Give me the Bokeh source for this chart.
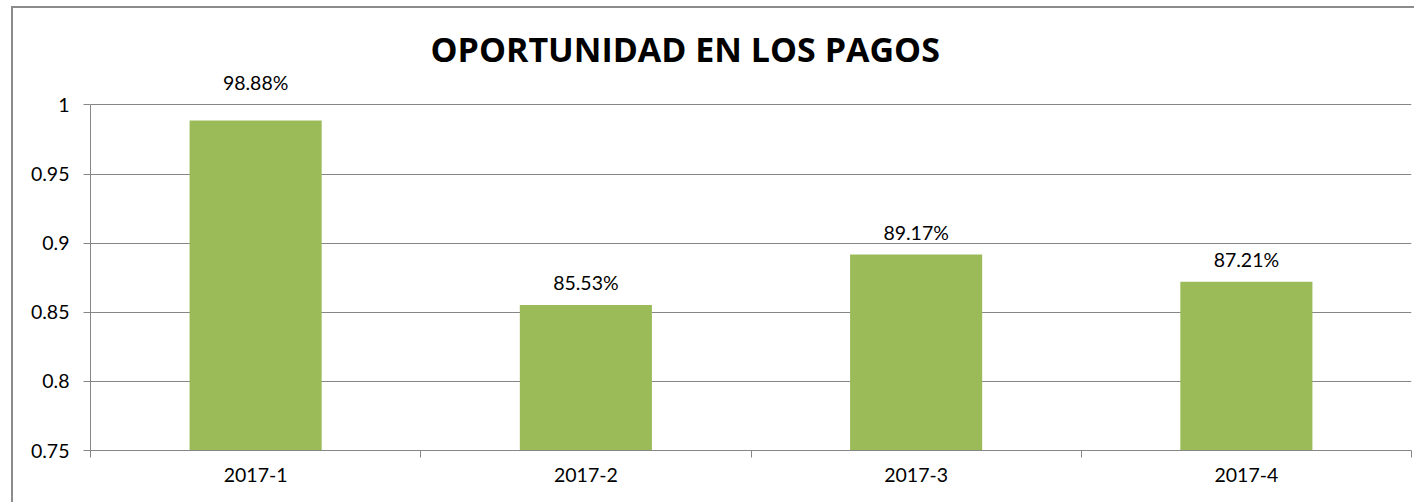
from bokeh.plotting import figure
from bokeh.models import FixedTicker, Range1d, ColumnDataSource, Title, LabelSet
from bokeh.embed import file_html
from bokeh.resources import INLINE
from bokeh.core.properties import value
import numpy as np

# ---- data ----
categories = ["2017-1", "2017-2", "2017-3", "2017-4"]
values = [0.9888, 0.8553, 0.8917, 0.8721]
y_ticks = [0.75, 0.8, 0.85, 0.9, 0.95, 1.0]
y_tick_labels = ["0.75", "0.8", "0.85", "0.9", "0.95", "1"]
title_text = "OPORTUNIDAD EN LOS PAGOS"

# ---- style ----
label_offsets = [30, 15, 15, 15]
FONT = "Lato"
GRID = "#868686"
BAR = "#9BBB59"
Y_MIN, Y_MAX = 0.75, 1.0
Y_HEADROOM = 0.022  # extra space above the axis so the top label is not clipped

x = np.arange(len(categories)) + 0.5
src = ColumnDataSource(dict(
    x=x, top=values,
    label=[f"{v*100:.2f}%" for v in values],
    yoff=label_offsets,
))

p = figure(width=1403, height=496, output_backend="svg", toolbar_location=None,
           x_range=Range1d(0, len(categories)),
           y_range=Range1d(Y_MIN, Y_MAX + Y_HEADROOM),
           min_border_left=77, min_border_right=5, min_border_top=66,
           min_border_bottom=54)
p.styles = {"border-left": "2px solid #8c8c8c", "border-top": "2px solid #8c8c8c",
            "margin-left": "11px", "margin-top": "6px"}
p.outline_line_color = None
p.background_fill_color = "white"
p.border_fill_color = "white"

t = Title(text=title_text, align="left", offset=340, text_font="Open Sans",
          text_font_size="34px", text_font_style="bold", text_color="black",
          standoff=6)
p.add_layout(t, "above")

p.vbar(x="x", top="top", bottom=Y_MIN, width=0.4, source=src,
       fill_color=BAR, line_color=None)
labels = LabelSet(x="x", y="top", text="label", y_offset="yoff", source=src,
                  text_align="center", text_baseline="alphabetic",
                  text_font=value(FONT), text_font_size=value("19.5px"),
                  text_color="black")
p.add_layout(labels)

# x axis
p.xaxis.ticker = FixedTicker(ticks=list(x), minor_ticks=list(range(len(categories) + 1)))
p.xaxis.major_label_overrides = {float(xx): c for xx, c in zip(x, categories)}
p.xaxis.major_tick_out = 0
p.xaxis.major_tick_in = 0
p.xaxis.minor_tick_out = 7
p.xaxis.minor_tick_in = 0
p.xaxis.minor_tick_line_color = GRID
p.xaxis.axis_line_color = GRID
p.xaxis.major_label_standoff = 10
p.xaxis.major_label_text_font = FONT
p.xaxis.major_label_text_font_size = "19.5px"
p.xaxis.major_label_text_color = "black"

# y axis
p.yaxis.ticker = FixedTicker(ticks=y_ticks)
p.yaxis.bounds = (Y_MIN, Y_MAX)
p.yaxis.major_label_overrides = {t_: l for t_, l in zip(y_ticks, y_tick_labels)}
p.yaxis.major_tick_out = 7
p.yaxis.major_tick_in = 0
p.yaxis.minor_tick_line_color = None
p.yaxis.major_tick_line_color = GRID
p.yaxis.axis_line_color = GRID
p.yaxis.major_label_standoff = 14
p.yaxis.major_label_text_font = FONT
p.yaxis.major_label_text_font_size = "19.5px"
p.yaxis.major_label_text_color = "black"

p.xgrid.grid_line_color = None
p.ygrid.grid_line_color = GRID
p.ygrid.grid_line_width = 1

open("out.html", "w").write(file_html(p, INLINE))
